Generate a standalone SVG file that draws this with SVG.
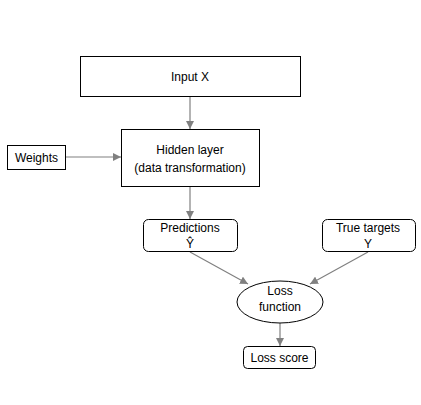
<svg xmlns="http://www.w3.org/2000/svg" width="421" height="405" viewBox="0 0 421 405">
<style>
.box{fill:#fff;stroke:#000;stroke-width:1}
.t{font-family:"Liberation Sans",Arial,sans-serif;font-size:12px;fill:#000;text-anchor:middle}
.c{stroke:#808080;stroke-width:1.2;fill:none;marker-end:url(#ah)}
</style>
<defs>
<marker id="ah" viewBox="0 0 10 10" refX="10" refY="5" markerWidth="8" markerHeight="8" markerUnits="userSpaceOnUse" orient="auto">
<path d="M0,0 L10,5 L0,10 z" fill="#808080"/>
</marker>
</defs>
<rect width="421" height="405" fill="#fff"/>
<g id="connectors">
<line class="c" x1="190" y1="96" x2="190" y2="129"/>
<line class="c" x1="66" y1="157" x2="121" y2="157"/>
<line class="c" x1="190" y1="187" x2="190" y2="219"/>
<line class="c" x1="190" y1="252" x2="248" y2="284"/>
<line class="c" x1="368" y1="252" x2="310" y2="284"/>
<line class="c" x1="280" y1="323" x2="280" y2="346"/>
</g>
<g id="input">
<rect class="box" x="80.5" y="56.5" width="220" height="40"/>
<text class="t" x="190" y="81">Input X</text>
</g>
<g id="hidden">
<rect class="box" x="121.5" y="129.5" width="138" height="57"/>
<text class="t" x="190" y="154">Hidden layer</text>
<text class="t" x="190" y="172">(data transformation)</text>
</g>
<g id="weights">
<rect class="box" x="7.5" y="145.5" width="58" height="24"/>
<text class="t" x="36.5" y="162">Weights</text>
</g>
<g id="predictions">
<rect class="box" x="143.5" y="219.5" width="94" height="32" rx="5"/>
<text class="t" x="190" y="232">Predictions</text>
<text class="t" x="190" y="248">Ŷ</text>
</g>
<g id="targets">
<rect class="box" x="322.5" y="219.5" width="93" height="32" rx="5"/>
<text class="t" x="368" y="232">True targets</text>
<text class="t" x="368" y="248">Y</text>
</g>
<g id="loss">
<ellipse class="box" cx="280" cy="302" rx="43" ry="21"/>
<text class="t" x="280" y="295">Loss</text>
<text class="t" x="280" y="311">function</text>
</g>
<g id="score">
<rect class="box" x="243.5" y="346.5" width="72" height="22" rx="4"/>
<text class="t" x="279.5" y="362">Loss score</text>
</g>
</svg>
